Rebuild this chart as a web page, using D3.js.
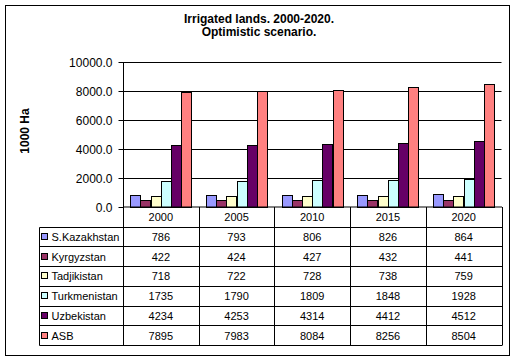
<!DOCTYPE html>
<html>
<head>
<meta charset="utf-8">
<script src="https://cdn.jsdelivr.net/npm/d3@7"></script>
<style>
  html, body { margin: 0; padding: 0; background: #fff; }
  svg { display: block; font-family: "Liberation Sans", Arial, sans-serif; }
</style>
</head>
<body>
<svg id="chart" width="517" height="362"></svg>
<script>
const years = ["2000", "2005", "2010", "2015", "2020"];
const seriesNames = ["S.Kazakhstan", "Kyrgyzstan", "Tadjikistan", "Turkmenistan", "Uzbekistan", "ASB"];
const sKazakhstan = [786, 793, 806, 826, 864];
const kyrgyzstan = [422, 424, 427, 432, 441];
const tadjikistan = [718, 722, 728, 738, 759];
const turkmenistan = [1735, 1790, 1809, 1848, 1928];
const uzbekistan = [4234, 4253, 4314, 4412, 4512];
const asb = [7895, 7983, 8084, 8256, 8504];
const yTicks = [0, 2000, 4000, 6000, 8000, 10000];
const titleLines = ["Irrigated lands. 2000-2020.", "Optimistic scenario."];
const yTitle = "1000 Ha";

const seriesValues = [sKazakhstan, kyrgyzstan, tadjikistan, turkmenistan, uzbekistan, asb];
const colors = ["#9999FF", "#993366", "#FFFFCC", "#CCFFFF", "#660066", "#FF8080"];

const svg = d3.select("#chart");
svg.append("rect").attr("width", 517).attr("height", 362).attr("fill", "#fff");
svg.append("rect").attr("x", 5.5).attr("y", 5.5).attr("width", 504).attr("height", 350)
  .attr("fill", "none").attr("stroke", "#000");

// Title
svg.selectAll("text.title").data(titleLines).enter().append("text")
  .attr("class", "title")
  .attr("x", 259).attr("y", (d, i) => 22.5 + i * 13)
  .attr("text-anchor", "middle").attr("font-size", 12).attr("font-weight", "bold")
  .text(d => d);

const plotL = 123, plotR = 501.5, plotT = 62, plotB = 206.5;
const x = d3.scaleBand().domain(years).range([plotL, plotR]).paddingInner(0).paddingOuter(0);
const xs = d3.scaleBand().domain(seriesNames).range([0, x.bandwidth()]).paddingInner(0).paddingOuter(0.7);
const y = d3.scaleLinear().domain([0, 10000]).range([plotB, plotT]);

// gridlines
svg.append("g").selectAll("line").data(yTicks.filter(t => t > 0)).enter().append("line")
  .attr("x1", plotL).attr("x2", plotR)
  .attr("y1", d => Math.round(y(d)) + 0.5).attr("y2", d => Math.round(y(d)) + 0.5)
  .attr("stroke", "#000");

// bars
seriesNames.forEach((s, si) => {
  svg.append("g").selectAll("rect").data(seriesValues[si]).enter().append("rect")
    .attr("x", (d, i) => Math.round(x(years[i]) + xs(s)) + 0.5)
    .attr("y", d => Math.round(y(d)) + 0.5)
    .attr("width", Math.round(xs.bandwidth()))
    .attr("height", d => Math.round(plotB) - Math.round(y(d)))
    .attr("fill", colors[si]).attr("stroke", "#000").attr("stroke-width", 1);
});

// y axis
const yAxis = d3.axisLeft(y).tickValues(yTicks).tickFormat(d3.format(".1f")).tickSize(5).tickPadding(6);
const ga = svg.append("g").attr("transform", `translate(${plotL + 0.5},0)`).call(yAxis);
ga.select(".domain").attr("stroke", "#000").attr("d", `M0,${plotT}V${plotB + 0.5}`);
ga.selectAll(".tick line").attr("stroke", "#000");
ga.selectAll(".tick").attr("transform", d => `translate(0,${Math.round(y(d)) + 0.5})`);
ga.selectAll(".tick text").attr("font-size", 12).attr("font-family", "Liberation Sans, Arial, sans-serif")
  .attr("fill", "#000").attr("dy", "0.35em");

// y title
svg.append("text").attr("transform", "translate(29,131) rotate(-90)")
  .attr("text-anchor", "middle").attr("font-size", 12).attr("font-weight", "bold").text(yTitle);

// x axis line
svg.append("line").attr("x1", plotL).attr("x2", plotR + 0.5).attr("y1", plotB + 0.5).attr("y2", plotB + 0.5).attr("stroke", "#000");

// data table
const tableL = 39.5, headerB = 226.5, rowH = 19.75;
const rowY = i => headerB + i * rowH;
const tableBottom = rowY(seriesNames.length);

// horizontal lines
const hLines = d3.range(seriesNames.length + 1).map(i => Math.round(rowY(i)) + 0.5);
svg.append("g").selectAll("line").data(hLines).enter().append("line")
  .attr("x1", tableL).attr("x2", plotR + 0.5)
  .attr("y1", d => d).attr("y2", d => d).attr("stroke", "#000");
// vertical lines
const vx = years.map(yr => Math.round(x(yr)) + 0.5).concat([Math.round(plotR) + 0.5]);
svg.append("g").selectAll("line").data(vx).enter().append("line")
  .attr("x1", d => d).attr("x2", d => d)
  .attr("y1", plotB + 0.5).attr("y2", Math.round(tableBottom) + 0.5).attr("stroke", "#000");
svg.append("line").attr("x1", tableL).attr("x2", tableL)
  .attr("y1", Math.round(headerB) + 0.5).attr("y2", Math.round(tableBottom) + 0.5).attr("stroke", "#000");

// header labels
svg.append("g").selectAll("text").data(years).enter().append("text")
  .attr("x", d => x(d) + x.bandwidth() / 2).attr("y", 220.5)
  .attr("text-anchor", "middle").attr("font-size", 11).text(d => d);

// rows
seriesNames.forEach((s, si) => {
  const mid = rowY(si) + rowH / 2;
  svg.append("rect").attr("x", 41.5).attr("y", Math.round(mid - 3.5) + 0.5)
    .attr("width", 6).attr("height", 6).attr("fill", colors[si]).attr("stroke", "#000");
  svg.append("text").attr("x", 51.5).attr("y", mid + 4.5).attr("font-size", 11).text(s);
  svg.append("g").selectAll("text").data(seriesValues[si]).enter().append("text")
    .attr("x", (d, i) => x(years[i]) + x.bandwidth() / 2).attr("y", mid + 4.5)
    .attr("text-anchor", "middle").attr("font-size", 11).text(d => d);
});
</script>
</body>
</html>
